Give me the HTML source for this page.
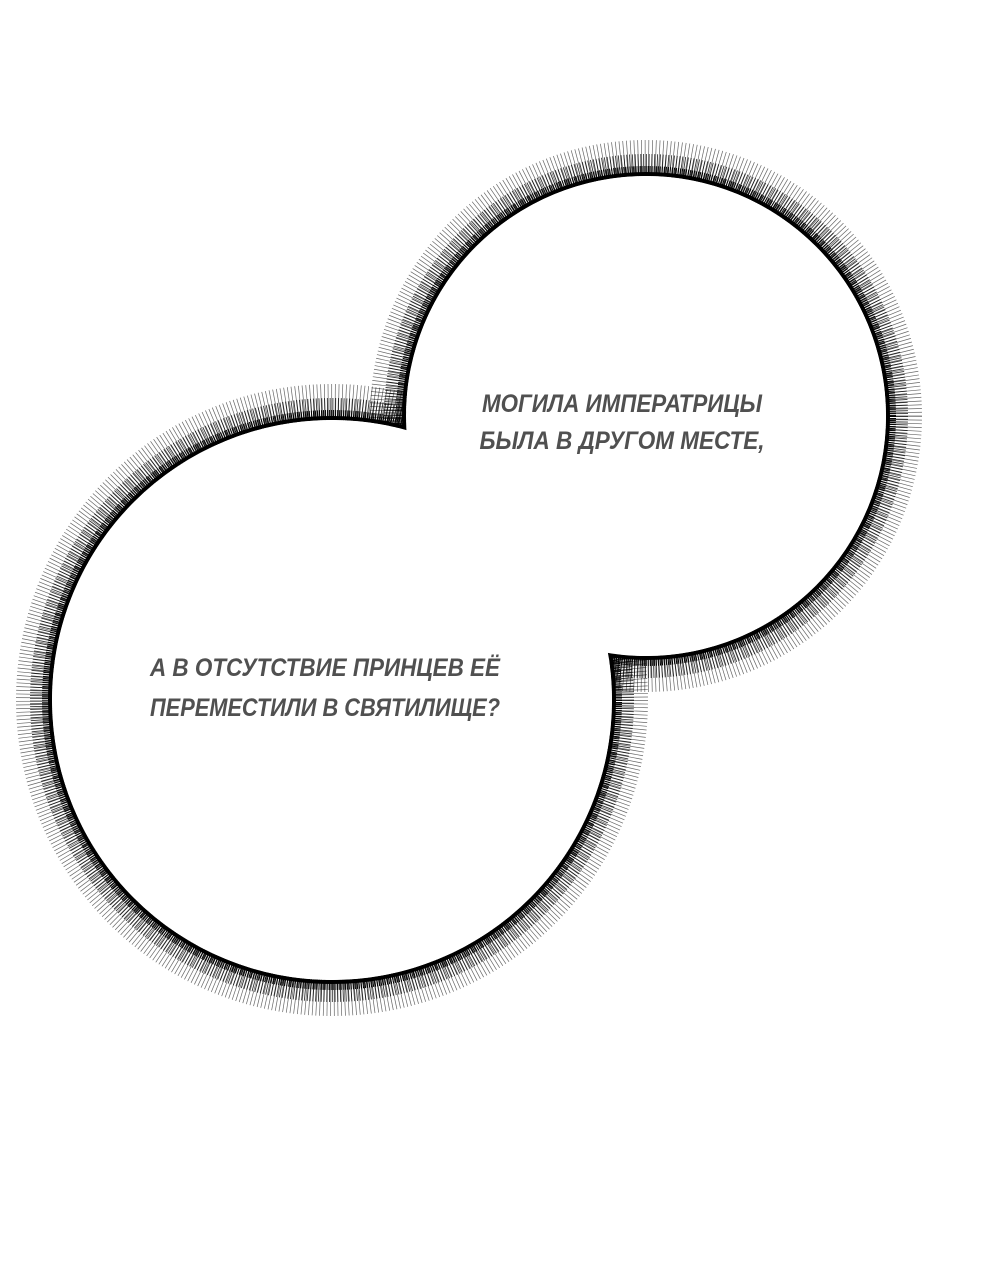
<!DOCTYPE html>
<html><head><meta charset="utf-8"><style>
html,body{margin:0;padding:0;background:#fff;}
svg{display:block}
text{font-family:"Liberation Sans Narrow","Liberation Sans",sans-serif;font-style:italic;font-weight:bold;fill:#505050;text-anchor:middle;font-size:25px;}
</style></head><body>
<svg width="1000" height="1266" viewBox="0 0 1000 1266">
<g fill="none" stroke="#000">
  <circle cx="332" cy="700" r="298" stroke-width="36" stroke-dasharray="0.7 2.8" stroke-opacity="0.6"/>
  <circle cx="332" cy="700" r="291" stroke-width="22" stroke-dasharray="0.9 1.8" stroke-opacity="0.8"/>
  <circle cx="332" cy="700" r="285" stroke-width="10" stroke-dasharray="1 1" />
  <circle cx="332" cy="700" r="282" stroke-width="4"/>
  <circle cx="646" cy="416" r="258" stroke-width="36" stroke-dasharray="0.7 2.8" stroke-opacity="0.6"/>
  <circle cx="646" cy="416" r="251" stroke-width="22" stroke-dasharray="0.9 1.8" stroke-opacity="0.8"/>
  <circle cx="646" cy="416" r="245" stroke-width="10" stroke-dasharray="1 1"/>
  <circle cx="646" cy="416" r="242" stroke-width="4"/>
</g>
<circle cx="332" cy="700" r="280" fill="#fff"/>
<circle cx="646" cy="416" r="240" fill="#fff"/>
<text x="622" y="412" textLength="280" lengthAdjust="spacingAndGlyphs">МОГИЛА ИМПЕРАТРИЦЫ</text>
<text x="622" y="449" textLength="285" lengthAdjust="spacingAndGlyphs">БЫЛА В ДРУГОМ МЕСТЕ,</text>
<text x="325" y="676" textLength="350" lengthAdjust="spacingAndGlyphs">А В ОТСУТСТВИЕ ПРИНЦЕВ ЕЁ</text>
<text x="325" y="716" textLength="350" lengthAdjust="spacingAndGlyphs">ПЕРЕМЕСТИЛИ В СВЯТИЛИЩЕ?</text>
</svg>
</body></html>
